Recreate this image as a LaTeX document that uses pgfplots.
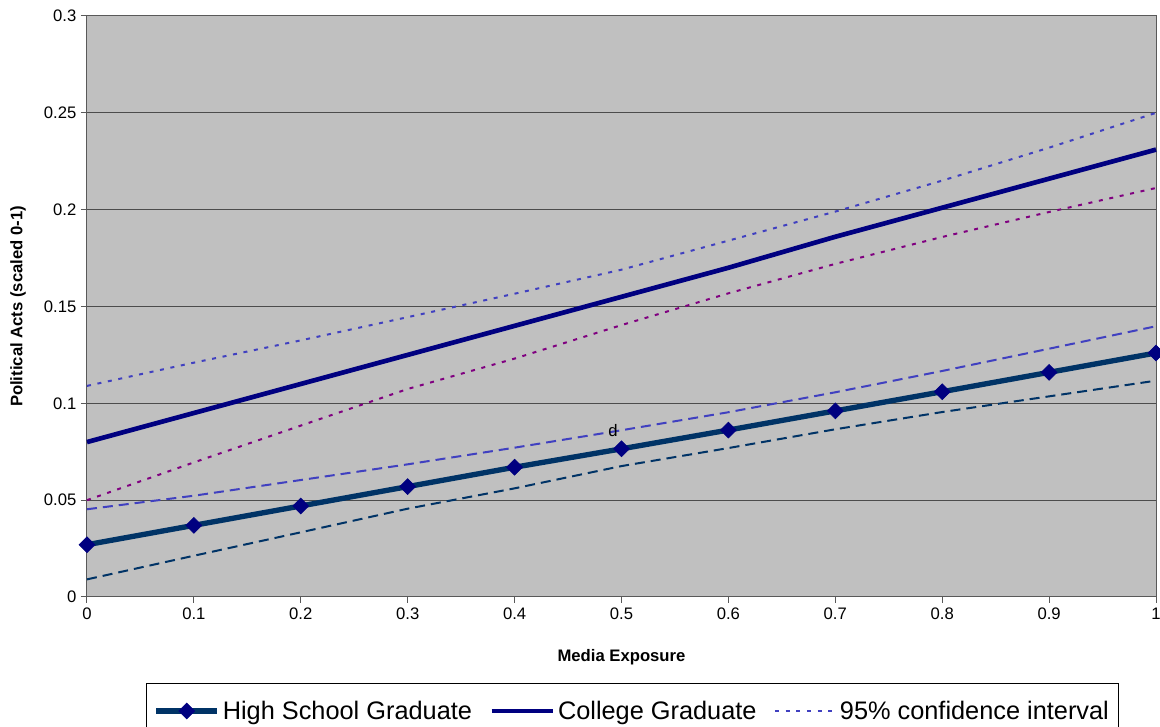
\documentclass[border=0pt]{standalone}
\usepackage{pgfplots}
\usepackage{pgfplotstable}
\pgfplotsset{compat=1.18}
\usepackage{fontspec}
\setmainfont{Liberation Sans}
\definecolor{hsline}{HTML}{003366}
\definecolor{navy}{HTML}{000080}
\definecolor{ciblue}{HTML}{4040C0}
\definecolor{cipurple}{HTML}{800080}
\definecolor{plotbg}{HTML}{C0C0C0}

\pgfplotstableread{
x    hs     col    cu     cl     hu     hl
0    0.027  0.080  0.109  0.050  0.0453 0.0091
0.1  0.037  0.095  0.121  0.0695 0.0523 0.0213
0.2  0.047  0.110  0.1325 0.0885 0.0604 0.0334
0.3  0.057  0.125  0.1445 0.1074 0.0685 0.0456
0.4  0.067  0.140  0.1566 0.1231 0.0771 0.0561
0.5  0.0765 0.155  0.169  0.1404 0.0861 0.0676
0.6  0.0862 0.170  0.184  0.1568 0.0954 0.0769
0.7  0.0961 0.186  0.199  0.172  0.1057 0.0866
0.8  0.106  0.201  0.215  0.1859 0.1167 0.0955
0.9  0.116  0.216  0.232  0.1988 0.1282 0.1036
1.0  0.126  0.231  0.250  0.2112 0.1398 0.1117
}\data

\begin{document}
\begin{tikzpicture}
\useasboundingbox (0,0) rectangle (870pt,545.25pt);
\begin{axis}[
  at={(65.25pt,97.5pt)}, anchor=south west,
  scale only axis, width=801.75pt, height=435.75pt,
  xmin=0, xmax=1, ymin=0, ymax=0.3,
  clip=false,
  axis background/.style={fill=plotbg},
  axis line style={black!65, line width=0.75pt},
  xtick={0,0.1,0.2,0.3,0.4,0.5,0.6,0.7,0.8,0.9,1},
  xticklabels={0,0.1,0.2,0.3,0.4,0.5,0.6,0.7,0.8,0.9,1},
  ytick={0,0.05,0.1,0.15,0.2,0.25,0.3},
  yticklabels={0,0.05,0.1,0.15,0.2,0.25,0.3},
  xtick pos=left, ytick pos=left,
  tick align=outside,
  major tick length=4.5pt,
  tick style={black!65, line width=0.75pt},
  ymajorgrids,
  major grid style={black!70, line width=0.75pt},
  ticklabel style={font=\fontsize{12.5}{14}\selectfont},
  /pgf/number format/assume math mode=true,
  xlabel={Media Exposure},
  ylabel={Political Acts (scaled 0-1)},
  label style={font=\bfseries\fontsize{12.5}{14}\selectfont},
  xlabel style={at={(axis description cs:0.5,-0.103)}, anchor=center},
  ylabel style={at={(axis description cs:-0.0645,0.5)}, anchor=center},
  legend style={at={(axis description cs:0.5103,-0.148)}, anchor=north,
    legend columns=-1, draw=black, line width=0.75pt,
    font=\fontsize{19}{22}\selectfont, inner xsep=5pt, inner ysep=11pt,
    /tikz/every even column/.append style={column sep=11pt}},
  legend image code/.code={\draw[mark repeat=2,mark phase=2,#1] plot coordinates {(0pt,0pt) (23pt,0pt) (46pt,0pt)};},
]
\addplot[forget plot, ciblue, line width=1.5pt, dash pattern=on 3pt off 5pt] table[x=x,y=cu] {\data};
\addplot[forget plot, cipurple, line width=1.5pt, dash pattern=on 3pt off 5pt] table[x=x,y=cl] {\data};
\addplot[forget plot, ciblue, line width=1.5pt, dash pattern=on 7.5pt off 4.5pt] table[x=x,y=hu] {\data};
\addplot[forget plot, hsline, line width=1.5pt, dash pattern=on 7.5pt off 4.5pt] table[x=x,y=hl] {\data};
\addplot[hsline, line width=4pt, mark=square*, mark size=4.2pt,
  mark options={rotate=45, fill=navy, draw=navy, line width=0.5pt, solid}] table[x=x,y=hs] {\data};
\addlegendentry{High School Graduate}
\addplot[navy, line width=3.5pt] table[x=x,y=col] {\data};
\addlegendentry{College Graduate}
\addlegendimage{ciblue, line width=1.5pt, dash pattern=on 3pt off 5pt}
\addlegendentry{95\% confidence interval}
\node[font=\fontsize{12.5}{14}\selectfont] at (axis cs:0.492,0.0862) {d};
\end{axis}
\end{tikzpicture}
\end{document}
